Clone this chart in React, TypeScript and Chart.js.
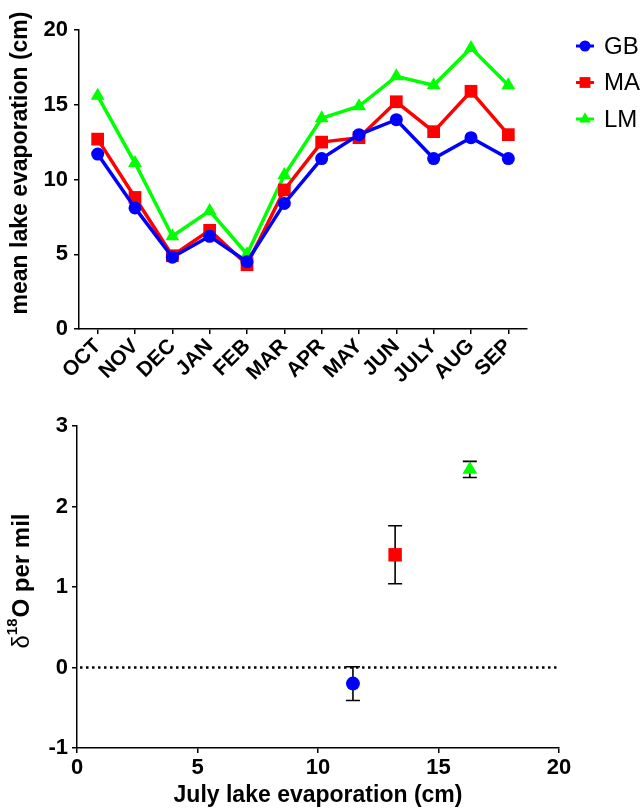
import React, { useEffect, useRef } from 'react';
import { Chart, registerables } from 'chart.js';

Chart.register(...registerables);

// ---------- data ----------
const MONTHS = ['OCT', 'NOV', 'DEC', 'JAN', 'FEB', 'MAR', 'APR', 'MAY', 'JUN', 'JULY', 'AUG', 'SEP'];
const GB = [11.7, 8.1, 4.8, 6.2, 4.5, 8.4, 11.4, 13.0, 14.0, 11.4, 12.8, 11.4];
const MA = [12.7, 8.8, 4.9, 6.6, 4.3, 9.3, 12.5, 12.8, 15.2, 13.2, 15.9, 13.0];
const LM = [15.6, 11.1, 6.2, 7.9, 5.0, 10.3, 14.1, 14.9, 16.9, 16.3, 18.8, 16.3];
const SERIES_NAMES = ['GB', 'MA', 'LM'];
const SERIES_COLORS = ['#0000ff', '#ff0000', '#00ff00'];
const POINT_STYLES = ['circle', 'rect', 'triangle'];

const JULY_EVAP = [11.45, 13.2, 16.3];
const D18O = [-0.2, 1.4, 2.46];
const D18O_ERR = [0.21, 0.36, 0.1];
const REF_LINE_Y = 0;

const TOP_Y_TITLE = 'mean lake evaporation (cm)';
const BOTTOM_X_TITLE = 'July lake evaporation (cm)';
const BOTTOM_Y_TITLE_PARTS = ['δ', '18', 'O per mil'];

const FONT = "'Liberation Sans', Arial, Helvetica, sans-serif";

function drawMarker(ctx: CanvasRenderingContext2D, style: string, x: number, y: number, r: number, color: string) {
  ctx.save();
  ctx.fillStyle = color;
  ctx.beginPath();
  if (style === 'circle') {
    ctx.arc(x, y, r, 0, Math.PI * 2);
  } else if (style === 'rect') {
    const s = r * Math.SQRT1_2;
    ctx.rect(x - s, y - s, 2 * s, 2 * s);
  } else {
    ctx.moveTo(x, y - r);
    ctx.lineTo(x + r * Math.sin((2 * Math.PI) / 3), y - r * Math.cos((2 * Math.PI) / 3));
    ctx.lineTo(x + r * Math.sin((4 * Math.PI) / 3), y - r * Math.cos((4 * Math.PI) / 3));
    ctx.closePath();
  }
  ctx.fill();
  ctx.restore();
}

const axisCommon = {
  grid: { display: true, drawOnChartArea: false, drawTicks: true, tickLength: 5, color: '#000', lineWidth: 1.5, offset: false },
  border: { display: true, color: '#000', width: 1.5 },
};

export default function App() {
  const topRef = useRef<HTMLCanvasElement>(null);
  const botRef = useRef<HTMLCanvasElement>(null);

  useEffect(() => {
    const seriesValues = [GB, MA, LM];
    const topRadii = [6.5, 9, 8];

    const legendPlugin = {
      id: 'customLegend',
      afterDraw(chart: any) {
        const ctx = chart.ctx as CanvasRenderingContext2D;
        ctx.save();
        SERIES_NAMES.forEach((name, i) => {
          const y = 46 + i * 36.5;
          ctx.strokeStyle = SERIES_COLORS[i];
          ctx.lineWidth = 3;
          ctx.beginPath();
          ctx.moveTo(576, y);
          ctx.lineTo(594, y);
          ctx.stroke();
          drawMarker(ctx, POINT_STYLES[i], 585, y, topRadii[i] * 0.85, SERIES_COLORS[i]);
          ctx.fillStyle = '#000';
          ctx.font = `24px ${FONT}`;
          ctx.textBaseline = 'middle';
          ctx.textAlign = 'left';
          ctx.fillText(name, 604, y + 1);
        });
        // y-axis title
        ctx.translate(21, 163);
        ctx.rotate(-Math.PI / 2);
        ctx.font = `bold 23px ${FONT}`;
        ctx.textAlign = 'center';
        ctx.textBaseline = 'middle';
        ctx.fillStyle = '#000';
        ctx.fillText(TOP_Y_TITLE, 0, 0);
        ctx.restore();
      },
    };

    const top = new Chart(topRef.current!, {
      type: 'line',
      data: {
        labels: MONTHS,
        datasets: seriesValues.map((vals, i) => ({
          label: SERIES_NAMES[i],
          data: vals,
          borderColor: SERIES_COLORS[i],
          backgroundColor: SERIES_COLORS[i],
          borderWidth: 3.5,
          pointStyle: POINT_STYLES[i] as any,
          pointRadius: topRadii[i],
          pointBorderWidth: 0,
          pointBackgroundColor: SERIES_COLORS[i],
          tension: 0,
        })),
      },
      options: {
        responsive: false,
        animation: false,
        devicePixelRatio: 1,
        layout: { padding: { top: 30, right: 117, left: 0, bottom: 0 } },
        plugins: { legend: { display: false }, tooltip: { enabled: false } },
        scales: {
          x: {
            type: 'category',
            offset: true,
            ...axisCommon,
            ticks: {
              color: '#000',
              font: { family: FONT, size: 21, weight: 'bold' },
              maxRotation: 45,
              minRotation: 45,
              padding: 0,
              autoSkip: false,
            },
            afterFit: (s: any) => { s.height = 71; },
          },
          y: {
            min: 0,
            max: 20,
            ...axisCommon,
            ticks: { stepSize: 5, color: '#000', font: { family: FONT, size: 22, weight: 'bold' }, padding: 6 },
            afterFit: (s: any) => { s.width = 79; },
          },
        },
      },
      plugins: [legendPlugin],
    } as any);

    const botRadii = [7, 9.5, 8.5];
    const errorPlugin = {
      id: 'errorBars',
      beforeDatasetsDraw(chart: any) {
        const ctx = chart.ctx as CanvasRenderingContext2D;
        const xs = chart.scales.x;
        const ys = chart.scales.y;
        const area = chart.chartArea;
        ctx.save();
        ctx.strokeStyle = '#000';
        ctx.lineWidth = 2.5;
        ctx.setLineDash([2.5, 3.5]);
        const y0 = ys.getPixelForValue(REF_LINE_Y);
        ctx.beginPath();
        ctx.moveTo(area.left + 3, y0);
        ctx.lineTo(area.right, y0);
        ctx.stroke();
        ctx.setLineDash([]);
        ctx.lineWidth = 1.6;
        JULY_EVAP.forEach((xv, i) => {
          const px = xs.getPixelForValue(xv);
          const hi = ys.getPixelForValue(D18O[i] + D18O_ERR[i]);
          const lo = ys.getPixelForValue(D18O[i] - D18O_ERR[i]);
          ctx.beginPath();
          ctx.moveTo(px, hi);
          ctx.lineTo(px, lo);
          ctx.moveTo(px - 7, hi);
          ctx.lineTo(px + 7, hi);
          ctx.moveTo(px - 7, lo);
          ctx.lineTo(px + 7, lo);
          ctx.stroke();
        });
        ctx.restore();
      },
      afterDraw(chart: any) {
        const ctx = chart.ctx as CanvasRenderingContext2D;
        const area = chart.chartArea;
        const cy = (area.top + area.bottom) / 2 - 6;
        const cx = 21;
        const [p1, p2, p3] = BOTTOM_Y_TITLE_PARTS;
        ctx.save();
        ctx.fillStyle = '#000';
        const f1 = `24px ${FONT}`;
        const f2 = `bold 15px ${FONT}`;
        const f3 = `bold 24px ${FONT}`;
        ctx.font = f1; const w1 = ctx.measureText(p1).width;
        ctx.font = f2; const w2 = ctx.measureText(p2).width;
        ctx.font = f3; const w3 = ctx.measureText(p3).width;
        const total = w1 + w2 + 1 + w3;
        ctx.translate(cx, cy);
        ctx.rotate(-Math.PI / 2);
        ctx.textBaseline = 'middle';
        ctx.textAlign = 'left';
        let x = -total / 2;
        ctx.font = f1; ctx.fillText(p1, x, 1); x += w1;
        ctx.font = f2; ctx.fillText(p2, x, -8); x += w2 + 1;
        ctx.font = f3; ctx.fillText(p3, x, 1);
        ctx.restore();
      },
    };

    const bot = new Chart(botRef.current!, {
      type: 'scatter',
      data: {
        datasets: JULY_EVAP.map((xv, i) => ({
          label: SERIES_NAMES[i],
          data: [{ x: xv, y: D18O[i] }],
          pointStyle: POINT_STYLES[i] as any,
          pointRadius: botRadii[i],
          pointBorderWidth: 0,
          pointBackgroundColor: SERIES_COLORS[i],
          borderColor: SERIES_COLORS[i],
          backgroundColor: SERIES_COLORS[i],
        })),
      },
      options: {
        responsive: false,
        animation: false,
        devicePixelRatio: 1,
        layout: { padding: { top: 26, right: 85, left: 0, bottom: 0 } },
        plugins: { legend: { display: false }, tooltip: { enabled: false } },
        scales: {
          x: {
            type: 'linear',
            min: 0,
            max: 20,
            ...axisCommon,
            ticks: { stepSize: 5, color: '#000', font: { family: FONT, size: 22, weight: 'bold' }, padding: 2 },
            title: {
              display: true,
              text: BOTTOM_X_TITLE,
              color: '#000',
              font: { family: FONT, size: 23, weight: 'bold' },
              padding: { top: 0, bottom: 0 },
            },
            afterFit: (s: any) => { s.height = 61; },
          },
          y: {
            min: -1,
            max: 3,
            ...axisCommon,
            ticks: { stepSize: 1, color: '#000', font: { family: FONT, size: 22, weight: 'bold' }, padding: 4 },
            afterFit: (s: any) => { s.width = 77; },
          },
        },
      },
      plugins: [errorPlugin],
    } as any);

    return () => {
      top.destroy();
      bot.destroy();
    };
  }, []);

  return (
    <div style={{ position: 'absolute', left: 0, top: 0, width: 644, height: 809, background: '#fff' }}>
      <canvas ref={topRef} width={644} height={400} style={{ position: 'absolute', left: 0, top: 0, width: 644, height: 400 }} />
      <canvas ref={botRef} width={644} height={409} style={{ position: 'absolute', left: 0, top: 400, width: 644, height: 409 }} />
    </div>
  );
}
